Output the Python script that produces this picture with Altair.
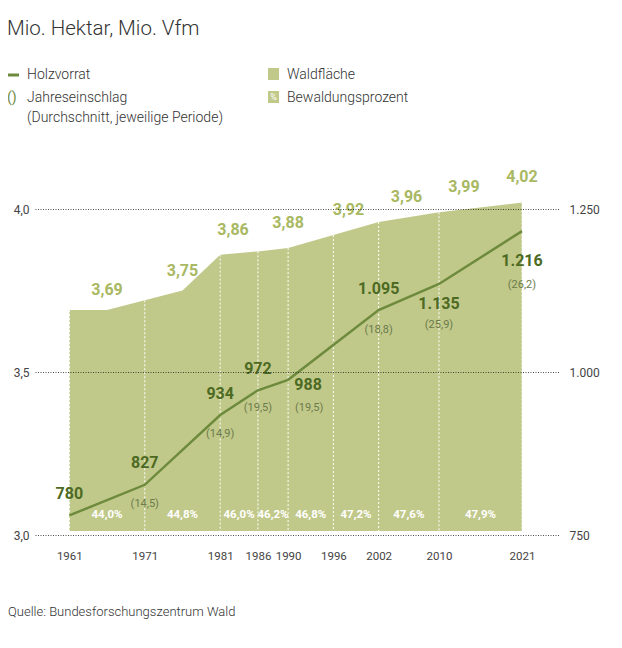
import altair as alt
import pandas as pd

# ---------------- data ----------------
# Waldfläche (Mio. ha) – vertices of the area
area_years = [1961, 1966, 1971, 1976, 1981, 1986, 1990, 1996, 2002, 2010, 2021]
area_values = [3.69, 3.69, 3.72, 3.75, 3.86, 3.87, 3.88, 3.92, 3.96, 3.99, 4.02]

# Waldfläche value labels (year they refer to)
wald_label_years = [1966, 1976, 1982.7, 1990, 1998, 2005.7, 2013.3, 2021]
wald_label_values = [3.69, 3.75, 3.86, 3.88, 3.92, 3.96, 3.99, 4.02]
wald_labels = ["3,69", "3,75", "3,86", "3,88", "3,92", "3,96", "3,99", "4,02"]

# Holzvorrat (Mio. Vfm) and Jahreseinschlag
inventory_years = [1961, 1971, 1981, 1986, 1990, 2002, 2010, 2021]
holzvorrat = [780, 827, 934, 972, 988, 1095, 1135, 1216]
holzvorrat_labels = ["780", "827", "934", "972", "988", "1.095", "1.135", "1.216"]
einschlag_labels = ["", "(14,5)", "(14,9)", "(19,5)", "(19,5)", "(18,8)", "(25,9)", "(26,2)"]

# Bewaldungsprozent per period
period_bounds = [1961, 1971, 1981, 1986, 1990, 1996, 2002, 2010, 2021]
bewaldung = ["44,0%", "44,8%", "46,0%", "46,2%", "46,8%", "47,2%", "47,6%", "47,9%"]

x_ticks = [1961, 1971, 1981, 1986, 1990, 1996, 2002, 2010, 2021]
left_ticks = [3.0, 3.5, 4.0]
right_ticks = [750, 1000, 1250]

# ---------------- tables ----------------
area_df = pd.DataFrame({"year": area_years, "wald": area_values})
wald_lab_df = pd.DataFrame({"year": wald_label_years, "wald": wald_label_values, "label": wald_labels})
vorrat_df = pd.DataFrame({"year": inventory_years, "vorrat": holzvorrat,
                          "label": holzvorrat_labels, "paren": einschlag_labels})
pct_df = pd.DataFrame({
    "year": [(a + b) / 2 for a, b in zip(period_bounds[:-1], period_bounds[1:])],
    "label": bewaldung,
})

# ---------------- styles ----------------
NARROW = "Roboto"
LIGHT = "Roboto"
AREA = "#c1c98a"
LINE = "#6e8b3d"
DARK = "#4d6a22"
LIGHTGREEN = "#a9b862"
PAREN = "#6b7b4a"

xscale = alt.Scale(domain=[1956.45, 2026.04], nice=False, zero=False)
yL = alt.Scale(domain=[3.0, 4.0], nice=False, zero=False)
yR = alt.Scale(domain=[750, 1250], nice=False, zero=False)

xaxis = alt.Axis(values=x_ticks, format="d", title=None, grid=False, domain=False,
                 ticks=False, labelPadding=15, labelFont=NARROW, labelFontSize=11.5,
                 labelColor="#444", labelFlush=False)
yLaxis = alt.Axis(values=left_ticks, title=None, grid=True, gridDash=[1, 1.5],
                  gridColor="#222", gridOpacity=0.8, domain=False, ticks=False,
                  labelPadding=6, labelFont=NARROW, labelFontSize=12, labelColor="#444",
                  labelExpr="replace(format(datum.value, '.1f'), '.', ',')", zindex=1)
yRaxis = alt.Axis(values=right_ticks, orient="right", title=None, grid=False,
                  domain=False, ticks=False, labelPadding=9, labelFont=NARROW,
                  labelFontSize=12, labelColor="#444",
                  labelExpr="replace(format(datum.value, ','), ',', '.')")

X = alt.X("year:Q", scale=xscale, axis=xaxis)
YL = alt.Y("wald:Q", scale=yL, axis=yLaxis)
YR = alt.Y("vorrat:Q", scale=yR, axis=yRaxis)

# ---------------- left (Waldfläche) ----------------
area = alt.Chart(area_df).mark_area(color=AREA, opacity=1).encode(
    x=X, y=YL, y2=alt.datum(3.012))

vrules = alt.Chart(area_df).transform_filter(
    alt.FieldOneOfPredicate(field="year", oneOf=x_ticks)
).mark_rule(color="white", strokeDash=[2, 2], strokeWidth=1).encode(
    x=X, y=YL, y2=alt.datum(3.012))

wald_text = []
for years, dy in [([1966, 1976], -20), ([1982.7, 1990, 1998, 2005.7, 2013.3, 2021], -25)]:
    wald_text.append(
        alt.Chart(wald_lab_df).transform_filter(
            alt.FieldOneOfPredicate(field="year", oneOf=years)
        ).mark_text(font=NARROW, fontSize=16, fontWeight="bold", color=LIGHTGREEN,
                    dy=dy, baseline="middle").encode(x=X, y=YL, text="label:N"))

pct_text = alt.Chart(pct_df).mark_text(
    font=NARROW, fontSize=11.5, fontWeight="bold", color="white", dy=-20, baseline="middle"
).encode(x=X, y=alt.datum(3.0), text="label:N")

left = alt.layer(area, vrules, *wald_text, pct_text)

# ---------------- right (Holzvorrat) ----------------
line = alt.Chart(vorrat_df).mark_line(color=LINE, strokeWidth=2.5).encode(x=X, y=YR)

label_place = {1961: (0, -21.5), 1971: (0, -21.5), 1981: (0, -21.5), 1986: (0, -21.5),
               1990: (20, 5), 2002: (0, -21.5), 2010: (0, 20), 2021: (0, 29.5)}
paren_place = {1971: (0, 19), 1981: (0, 19), 1986: (0, 18), 1990: (21, 28),
               2002: (0, 20), 2010: (0, 41.5), 2021: (0, 54)}

vorrat_text = []
for yr, (dx, dy) in label_place.items():
    vorrat_text.append(
        alt.Chart(vorrat_df).transform_filter(alt.datum.year == yr).mark_text(
            font=NARROW, fontSize=16, fontWeight="bold", color=DARK, dx=dx, dy=dy,
            baseline="middle").encode(x=X, y=YR, text="label:N"))
for yr, (dx, dy) in paren_place.items():
    vorrat_text.append(
        alt.Chart(vorrat_df).transform_filter(alt.datum.year == yr).mark_text(
            font=NARROW, fontSize=11, color=PAREN, dx=dx, dy=dy,
            baseline="middle").encode(x=X, y=YR, text="paren:N"))

right = alt.layer(line, *vorrat_text)


# ---------------- annotations (title, legend, source) ----------------
def note(txt, x, y, size=14, color="#333", font=LIGHT, weight=300, align="left"):
    return alt.Chart(pd.DataFrame({"t": [txt]})).mark_text(
        align=align, baseline="middle", font=font, fontSize=size, color=color,
        fontWeight=weight).encode(x=alt.value(x), y=alt.value(y), text="t:N")


legend_line = alt.Chart(pd.DataFrame({"t": [0]})).mark_rule(
    color=LINE, strokeWidth=3).encode(x=alt.value(-27), x2=alt.value(-16), y=alt.value(-134))
sq1 = alt.Chart(pd.DataFrame({"t": [0]})).mark_rect(color=AREA).encode(
    x=alt.value(233), x2=alt.value(244), y=alt.value(-141), y2=alt.value(-129))
sq2 = alt.Chart(pd.DataFrame({"t": [0]})).mark_rect(color=AREA).encode(
    x=alt.value(233), x2=alt.value(244), y=alt.value(-118), y2=alt.value(-106))

notes = [
    note("Mio. Hektar, Mio. Vfm", -28, -180, size=20.5, color="#333"),
    legend_line,
    note("Holzvorrat", -8, -134),
    note("()", -28, -111, size=14, color=LINE, font=NARROW, weight=400),
    note("Jahreseinschlag", -8, -111),
    note("(Durchschnitt, jeweilige Periode)", -8, -91),
    sq1,
    note("Waldfläche", 252, -134),
    sq2,
    note("%", 238.5, -112, size=9, color="white", font=NARROW, weight=400, align="center"),
    note("Bewaldungsprozent", 252, -111),
    note("Quelle: Bundesforschungszentrum Wald", -27, 403, size=13, color="#333"),
]

chart = alt.layer(left, right, *notes).resolve_scale(y="independent").properties(
    width=525, height=326,
    padding={"left": 27, "top": 201, "right": 54, "bottom": 95},
    autosize=alt.AutoSizeParams(type="none"),
).configure_view(stroke=None)

chart.save("out.html", embed_options={"renderer": "svg", "actions": False})
